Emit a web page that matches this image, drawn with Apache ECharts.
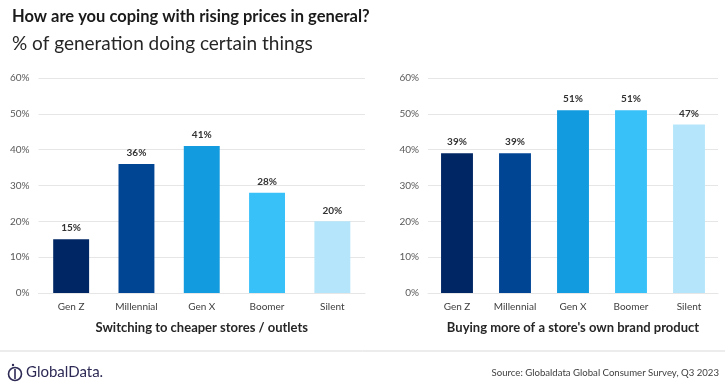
<!DOCTYPE html>
<html>
<head>
<meta charset="utf-8">
<script src="https://cdn.jsdelivr.net/npm/echarts@6/dist/echarts.min.js"></script>
<style>
html,body{margin:0;padding:0;background:#fff;}
#c{width:725px;height:389px;}
</style>
</head>
<body>
<div id="c"></div>
<script>
const categories = ['Gen Z', 'Millennial', 'Gen X', 'Boomer', 'Silent'];
const cheaperStores = [15, 36, 41, 28, 20];
const ownBrand = [39, 39, 51, 51, 47];
const barColors = ['#002664', '#004494', '#129BDF', '#38C1F9', '#B5E5FA'];
const yTicks = [0, 10, 20, 30, 40, 50, 60];
const leftName = 'Switching to cheaper stores / outlets';
const rightName = "Buying more of a store's own brand product";

const FONT = 'Lato, "Open Sans", sans-serif';
const chart = echarts.init(document.getElementById('c'), null, {renderer: 'canvas'});

function yAxis(gridIndex) {
  return {
    type: 'value', gridIndex: gridIndex, min: yTicks[0], max: yTicks[yTicks.length - 1], interval: 10,
    axisLabel: {formatter: '{value}%', color: '#595959', fontSize: 10, fontFamily: FONT, margin: 9},
    axisLine: {show: false}, axisTick: {show: false},
    splitLine: {lineStyle: {color: '#e6e6e6', width: 1}}
  };
}
function xAxis(gridIndex, name) {
  return {
    type: 'category', gridIndex: gridIndex, data: categories,
    axisLine: {show: true, lineStyle: {color: '#e6e6e6'}}, axisTick: {show: false},
    axisLabel: {color: '#404040', fontSize: 10, fontFamily: FONT, margin: 9},
    name: name, nameLocation: 'middle', nameGap: 28,
    nameTextStyle: {fontSize: 13, fontWeight: 'bold', color: '#262626', fontFamily: FONT}
  };
}
function series(idx, values) {
  return {
    type: 'bar', xAxisIndex: idx, yAxisIndex: idx, barWidth: '55%',
    data: values.map((v, i) => ({value: v, itemStyle: {color: barColors[i]}})),
    label: {show: true, position: 'top', formatter: '{c}%', fontSize: 10, fontWeight: 'bold',
      color: '#333', fontFamily: FONT, distance: 6}
  };
}

chart.setOption({
  animation: false,
  textStyle: {fontFamily: FONT},
  title: [
    {text: 'How are you coping with rising prices in general?', left: 7, top: 3,
      textStyle: {fontSize: 16.5, fontWeight: 'bold', color: '#1a1a1a', fontFamily: FONT}},
    {text: '% of generation doing certain things', left: 7, top: 29,
      textStyle: {fontSize: 19, fontWeight: 'normal', color: '#262626', fontFamily: FONT}}
  ],
  grid: [
    {left: 38.5, right: 360, top: 78, bottom: 96},
    {left: 428, right: 7, top: 78, bottom: 96}
  ],
  xAxis: [xAxis(0, leftName), xAxis(1, rightName)],
  yAxis: [yAxis(0), yAxis(1)],
  series: [series(0, cheaperStores), series(1, ownBrand)],
  graphic: [
    {type: 'line', shape: {x1: 0, y1: 351, x2: 725, y2: 351}, style: {stroke: '#d9d9d9', lineWidth: 1}},
    {type: 'circle', shape: {cx: 15, cy: 374, r: 6.5}, style: {fill: 'none', stroke: '#2d2a55', lineWidth: 1.6}},
    {type: 'line', shape: {x1: 15, y1: 369, x2: 15, y2: 379}, style: {stroke: '#2d2a55', lineWidth: 1.6}},
    {type: 'circle', shape: {cx: 13, cy: 365, r: 1.2}, style: {fill: '#2d2a55'}},
    {type: 'text', left: 26, top: 365, style: {text: 'GlobalData.', fill: '#2d2a55', fontSize: 15, fontFamily: FONT}},
    {type: 'text', right: 6, top: 368, style: {text: 'Source: Globaldata Global Consumer Survey, Q3 2023', fill: '#404040', fontSize: 9.6, fontFamily: FONT}}
  ]
});
</script>
</body>
</html>
